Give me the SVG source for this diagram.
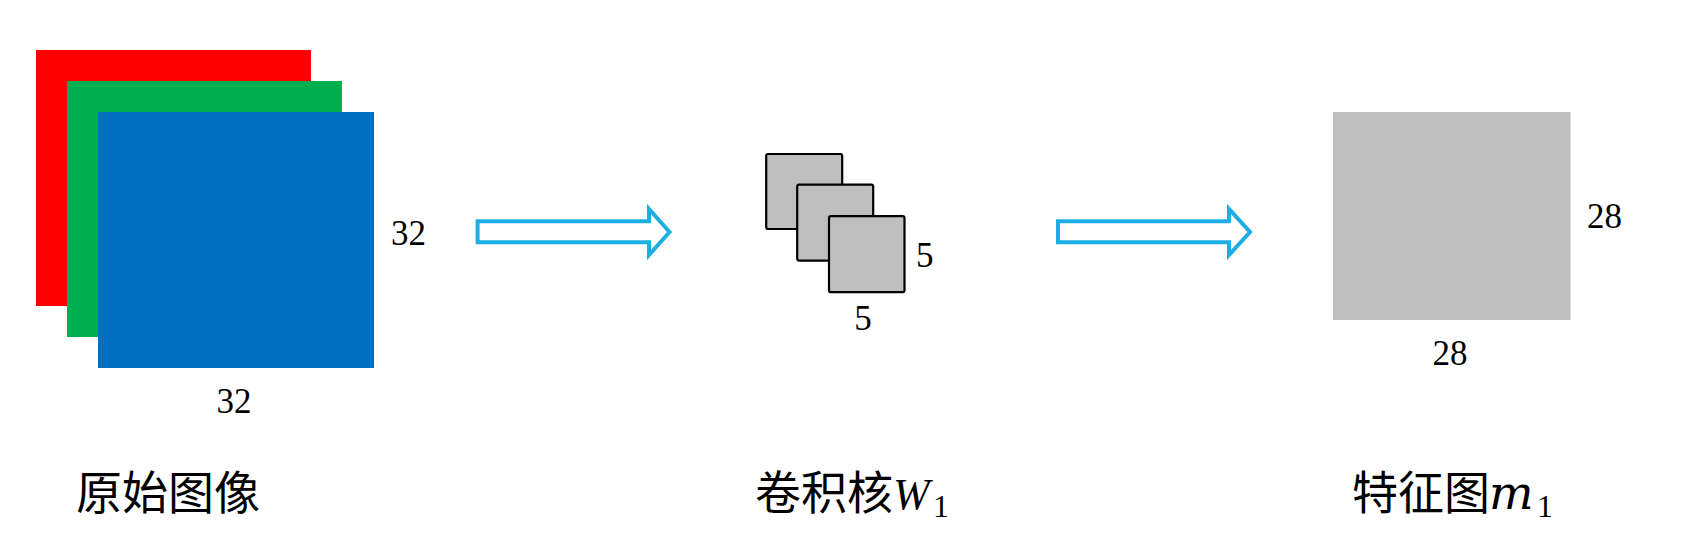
<svg xmlns="http://www.w3.org/2000/svg" width="1684" height="557" viewBox="0 0 1684 557">
  <style>
    .num { font-family: "Liberation Serif", "Times New Roman", serif; font-size: 35px; fill: #000; }
    .cap { font-family: "Noto Sans CJK SC", "Noto Sans", sans-serif; font-size: 46px; fill: #000; }
    .mathW { font-family: "Liberation Serif", serif; font-style: italic; }
    .mathM { font-family: "DejaVu Serif", serif; font-style: italic; }
    .sub { font-family: "Liberation Serif", serif; font-style: normal; font-size: 32px; }
    .arrow { fill: #fff; stroke: #1DAEE3; stroke-width: 4; stroke-linejoin: miter; }
    .kernel { fill: #BFBFBF; stroke: #000; stroke-width: 2.2; }
  </style>
  <rect width="1684" height="557" fill="#fff"/>

  <g id="input-image">
    <rect x="36" y="50" width="275" height="256" fill="#FF0000"/>
    <rect x="67" y="81" width="275" height="256" fill="#00B050"/>
    <rect x="98" y="112" width="276" height="256" fill="#0070C0"/>
    <text class="num" x="391" y="245">32</text>
    <text class="num" x="234" y="413" text-anchor="middle">32</text>
    <text class="cap" x="76" y="509">原始图像</text>
  </g>

  <g id="kernel">
    <rect class="kernel" x="766.2" y="154" width="76" height="75" rx="2"/>
    <rect class="kernel" x="797.2" y="184.6" width="76" height="76" rx="2"/>
    <rect class="kernel" x="829" y="216.2" width="75.5" height="76" rx="2"/>
    <text class="num" x="916" y="267">5</text>
    <text class="num" x="863" y="330" text-anchor="middle">5</text>
    <text class="cap" x="755" y="509">卷积核<tspan class="mathW" x="893" font-size="44">W</tspan><tspan class="sub" x="933" y="517">1</tspan></text>
  </g>

  <g id="feature-map">
    <rect x="1333" y="112" width="237.5" height="208" fill="#BFBFBF"/>
    <text class="num" x="1587" y="228">28</text>
    <text class="num" x="1450" y="365" text-anchor="middle">28</text>
    <text class="cap" x="1352" y="509">特征图<tspan class="mathM" x="1489" font-size="47">m</tspan><tspan class="sub" x="1537" y="517">1</tspan></text>
  </g>

  <g id="connectors">
    <path class="arrow" d="M477.6,221.3 H649 V209 L669.5,232 L649,255 V242.3 H477.6 Z"/>
    <path class="arrow" d="M1058,221.3 H1229 V209 L1250,232 L1229,255 V242.3 H1058 Z"/>
  </g>
</svg>
